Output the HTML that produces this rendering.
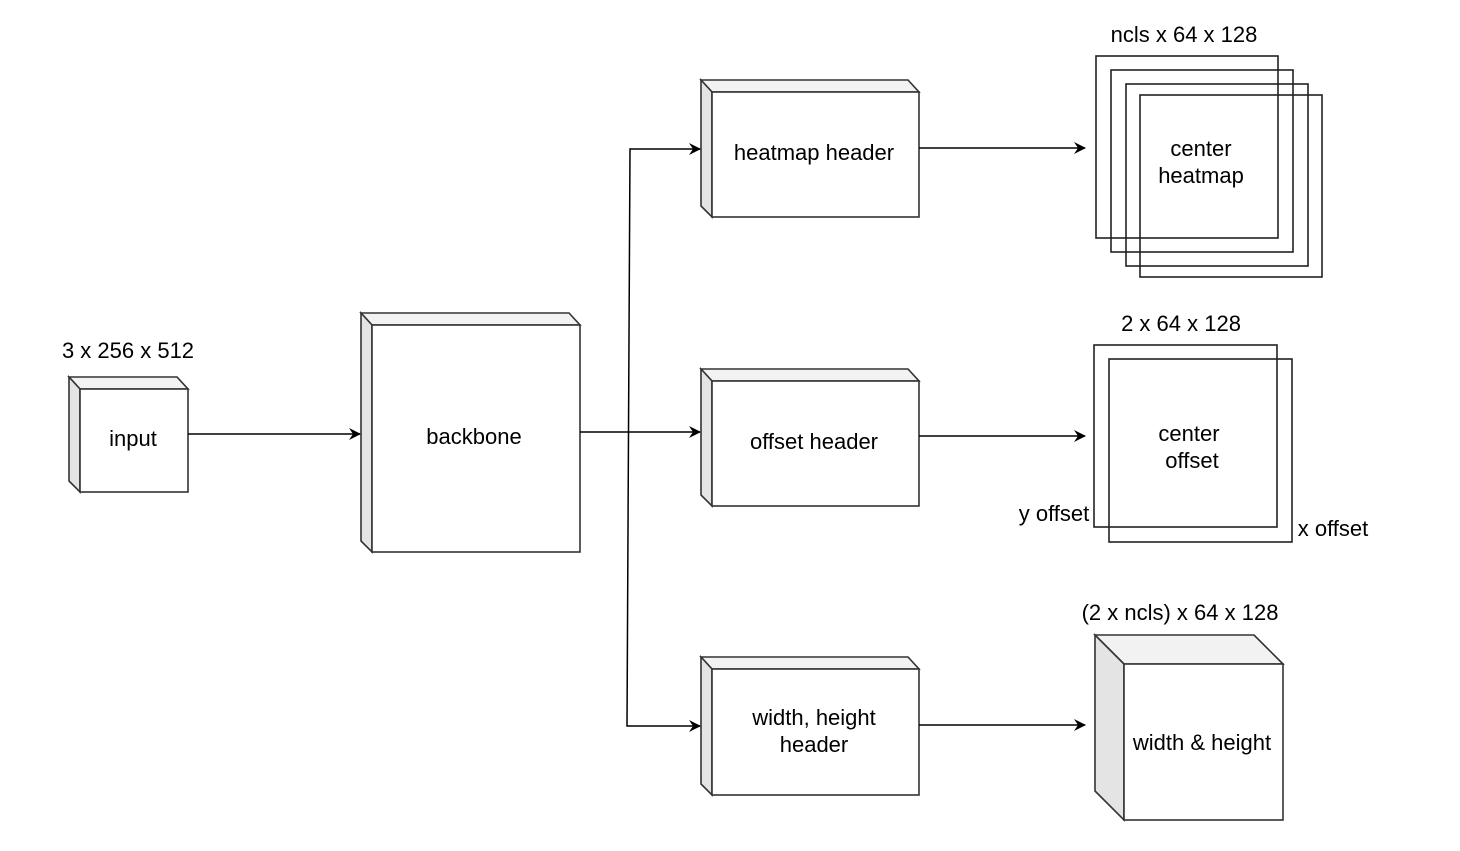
<!DOCTYPE html>
<html><head><meta charset="utf-8"><style>
html,body{margin:0;padding:0;background:#fff;}
svg{display:block;}
text{font-family:"Liberation Sans",Arial,sans-serif;font-size:22px;fill:#000;}
</style></head><body>
<svg width="1460" height="851" viewBox="0 0 1460 851" xmlns="http://www.w3.org/2000/svg">
<defs>
<marker id="a" markerWidth="12" markerHeight="12" refX="11" refY="6" orient="auto" markerUnits="userSpaceOnUse">
<path d="M0,0 L12,6 L0,12 L4,6 Z" fill="#000"/></marker>
</defs>
<g stroke="#333" stroke-width="1.6" stroke-linejoin="miter">
<polygon points="69,377 177,377 188,389 80,389" fill="#f2f2f2"/>
<polygon points="69,377 80,389 80,492 69,481" fill="#e4e4e4"/>
<rect x="80" y="389" width="108" height="103" fill="#fff"/>
<polygon points="361,313 569,313 580,325 372,325" fill="#f2f2f2"/>
<polygon points="361,313 372,325 372,552 361,541" fill="#e4e4e4"/>
<rect x="372" y="325" width="208" height="227" fill="#fff"/>
<polygon points="701,80 908,80 919,92 712,92" fill="#f2f2f2"/>
<polygon points="701,80 712,92 712,217 701,206" fill="#e4e4e4"/>
<rect x="712" y="92" width="207" height="125" fill="#fff"/>
<polygon points="701,369 908,369 919,381 712,381" fill="#f2f2f2"/>
<polygon points="701,369 712,381 712,506 701,495" fill="#e4e4e4"/>
<rect x="712" y="381" width="207" height="125" fill="#fff"/>
<polygon points="701,657 908,657 919,669 712,669" fill="#f2f2f2"/>
<polygon points="701,657 712,669 712,795 701,784" fill="#e4e4e4"/>
<rect x="712" y="669" width="207" height="126" fill="#fff"/>
<polygon points="1095,635 1254,635 1283,664 1124,664" fill="#f2f2f2"/>
<polygon points="1095,635 1124,664 1124,820 1095,791" fill="#e4e4e4"/>
<rect x="1124" y="664" width="159" height="156" fill="#fff"/>
</g>
<g fill="none" stroke="#222" stroke-width="1.6">
<rect x="1096" y="56" width="182" height="182"/>
<rect x="1111" y="70" width="182" height="182"/>
<rect x="1126" y="84" width="182" height="182"/>
<rect x="1140" y="95" width="182" height="182"/>
<rect x="1094" y="345" width="183" height="182"/>
<rect x="1109" y="359" width="183" height="183"/>
</g>
<g fill="none" stroke="#000" stroke-width="1.5">
<line x1="188" y1="434" x2="360" y2="434" marker-end="url(#a)"/>
<line x1="580" y1="432" x2="700" y2="432" marker-end="url(#a)"/>
<polyline points="628.5,432 630,149 700,149" marker-end="url(#a)"/>
<polyline points="628.5,432 627,726 700,726" marker-end="url(#a)"/>
<line x1="919" y1="148" x2="1085" y2="148" marker-end="url(#a)"/>
<line x1="919" y1="436" x2="1085" y2="436" marker-end="url(#a)"/>
<line x1="919" y1="725" x2="1085" y2="725" marker-end="url(#a)"/>
</g>
<g text-anchor="middle">
<text x="128" y="358">3 x 256 x 512</text>
<text x="133" y="446">input</text>
<text x="474" y="444">backbone</text>
<text x="814" y="160">heatmap header</text>
<text x="814" y="449">offset header</text>
<text x="814" y="725">width, height</text>
<text x="814" y="752">header</text>
<text x="1184" y="42">ncls x 64 x 128</text>
<text x="1201" y="156">center</text>
<text x="1201" y="183">heatmap</text>
<text x="1181" y="331">2 x 64 x 128</text>
<text x="1189" y="441">center</text>
<text x="1192" y="468">offset</text>
<text x="1054" y="521">y offset</text>
<text x="1333" y="536">x offset</text>
<text x="1180" y="620">(2 x ncls) x 64 x 128</text>
<text x="1202" y="750">width &amp; height</text>
</g>
</svg>
</body></html>
